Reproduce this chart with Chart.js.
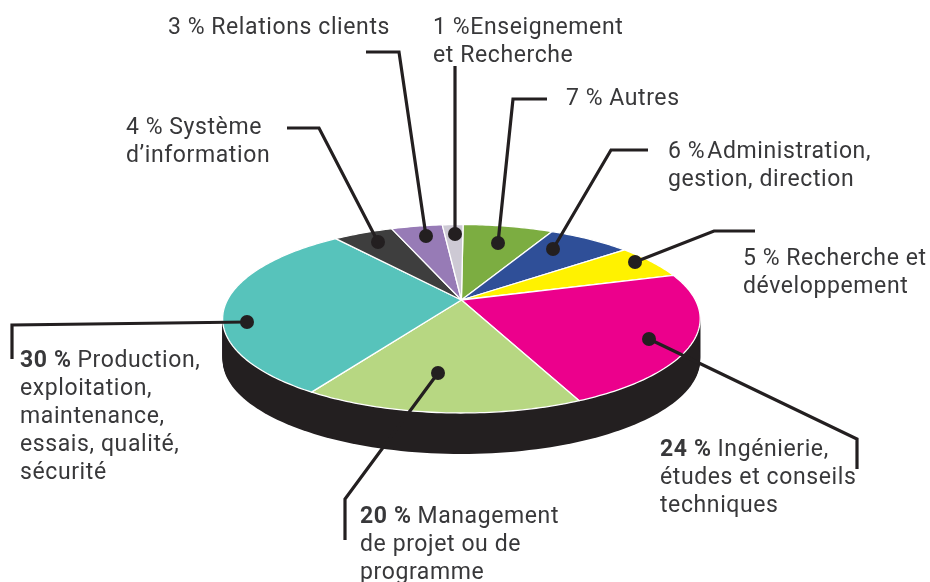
<!DOCTYPE html>
<html lang="fr">
<head>
<meta charset="utf-8">
<style>html,body{margin:0;padding:0;background:#fff}canvas{display:block}</style>
<script src="https://cdn.jsdelivr.net/npm/chart.js@4"></script>
</head>
<body>
<canvas id="c" width="930" height="582"></canvas>
<script>
// Categories, clockwise from the top of the pie
const categories = ["Autres","Administration, gestion, direction","Recherche et développement","Ingénierie, études et conseils techniques","Management de projet ou de programme","Production, exploitation, maintenance, essais, qualité, sécurité","Système d'information","Relations clients","Enseignement et Recherche"];
// Percentages as printed in the labels
const printedPercent = [7,6,5,24,20,30,4,3,1];
// Wedge sizes as actually drawn in the picture (undoing its perspective); they differ
// from the printed numbers because the reference's wedges are not proportional.
const drawnShare = [7.4,6.8,6.0,22.9,15.7,30.4,4.9,4.2,1.7];
const sliceColors = ["#7cad41","#2f4f98","#fff200","#ec008c","#b7d782","#57c3bb","#3e3e3e","#977bb6","#cdc9d4"];

// Layout: perspective projection of the pie disc
const view = {cx:461.4, cy:300, a:234, b:90.5, k:-0.199, depth:41, wall:"#231f20", rotation:0.5};
const ink = "#231f20", textInk = "#38383a";
const fontFamily = "Roboto, sans-serif", fontSize = 23, lineStep = 28;

// Layout: call-out lines, from their free end to the dot on the slice
const leaderPaths = [
  [[547,99],[513,99],[498,243]],
  [[648,150],[611,150],[553,249]],
  [[755,231],[714,231],[635,262]],
  [[857,469],[857,439],[649,339]],
  [[345,540],[345,499],[438,373]],
  [[12,359],[12,325],[247,322]],
  [[287,128],[319,128],[378,242]],
  [[366,52],[399,52],[426,236]],
  [[455,66],[455,234]]
];
// Layout: label text blocks, same order as categories (gap = space after the percentage)
const labelBlocks = [
  {x:566,y:105,bold:false,gap:6,lines:["Autres"]},
  {x:668,y:158,bold:false,gap:2,lines:["Administration,","gestion, direction"]},
  {x:743,y:265,bold:false,gap:6,lines:["Recherche et","développement"]},
  {x:660,y:456,bold:true,gap:6,lines:["Ingénierie,","études et conseils","techniques"]},
  {x:360,y:523,bold:true,gap:6,lines:["Management","de projet ou de","programme"]},
  {x:20,y:367,bold:true,gap:6,lines:["Production,","exploitation,","maintenance,","essais, qualité,","sécurité"]},
  {x:126,y:134,bold:false,gap:6,lines:["Système","d’information"]},
  {x:168,y:34,bold:false,gap:6,lines:["Relations clients"]},
  {x:433,y:34,bold:false,gap:0,lines:["Enseignement","et Recherche"]}
];

function project(theta, r){
  const x = r*Math.sin(theta), y = -r*Math.cos(theta);
  const d = 1 + view.k*y;
  return [view.cx + view.a*x/d, view.cy + view.b*y/d];
}

const perspectivePie = {
  id:"perspectivePie",
  beforeDatasetDraw(chart, args){
    const ctx = chart.ctx, arcs = args.meta.data;
    ctx.save();
    // side wall of the disc
    ctx.fillStyle = view.wall;
    for(let d=1; d<=view.depth; d++){
      ctx.beginPath();
      for(let i=0;i<=240;i++){
        const p = project(i/240*2*Math.PI,1);
        ctx.lineTo(p[0],p[1]+d);
      }
      ctx.closePath(); ctx.fill();
    }
    // wedges, using the angles Chart.js computed
    arcs.forEach(arc=>{
      const s = arc.startAngle+Math.PI/2, e = arc.endAngle+Math.PI/2;
      const n = Math.max(4,Math.ceil((e-s)*60));
      ctx.beginPath();
      ctx.moveTo(...project(0,0));
      for(let i=0;i<=n;i++){ ctx.lineTo(...project(s+(e-s)*i/n,1)); }
      ctx.closePath();
      ctx.fillStyle = arc.options.backgroundColor;
      ctx.fill();
      ctx.strokeStyle = "#fff"; ctx.lineWidth = 1.3; ctx.lineJoin = "round";
      ctx.stroke();
    });
    ctx.restore();
    return false;
  },
  afterDatasetsDraw(chart){
    const ctx = chart.ctx;
    ctx.save();
    ctx.strokeStyle = ink; ctx.fillStyle = ink; ctx.lineWidth = 3.2; ctx.lineJoin = "miter"; ctx.lineCap = "butt";
    leaderPaths.forEach(path=>{
      ctx.beginPath();
      path.forEach((p,i)=> i? ctx.lineTo(p[0],p[1]) : ctx.moveTo(p[0],p[1]));
      ctx.stroke();
      const end = path[path.length-1];
      ctx.beginPath(); ctx.arc(end[0],end[1],7,0,2*Math.PI); ctx.fill();
    });
    ctx.textBaseline = "alphabetic"; ctx.textAlign = "left"; ctx.fillStyle = textInk;
    ctx.letterSpacing = "0.6px";
    labelBlocks.forEach((b,i)=>{
      const pct = printedPercent[i]+" %";
      ctx.font = (b.bold?"700 ":"400 ")+fontSize+"px "+fontFamily;
      ctx.fillText(pct,b.x,b.y);
      const w = ctx.measureText(pct).width + b.gap;
      ctx.font = "400 "+fontSize+"px "+fontFamily;
      ctx.fillText(b.lines[0],b.x+w,b.y);
      b.lines.slice(1).forEach((l,j)=> ctx.fillText(l,b.x,b.y+(j+1)*lineStep));
    });
    ctx.restore();
  }
};

new Chart(document.getElementById("c"),{
  type:"pie",
  data:{labels:categories,datasets:[{data:drawnShare,backgroundColor:sliceColors,borderWidth:0}]},
  options:{
    responsive:false,animation:false,rotation:view.rotation,
    plugins:{legend:{display:false},tooltip:{enabled:false}}
  },
  plugins:[perspectivePie]
});
</script>
</body>
</html>
